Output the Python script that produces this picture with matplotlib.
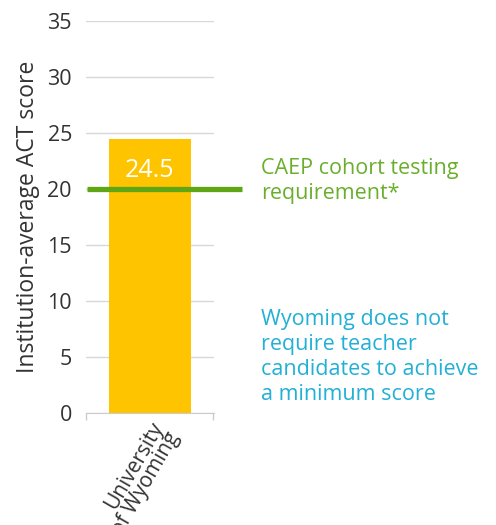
import matplotlib.pyplot as plt

# data
institutions = ["University\nof Wyoming"]
act_scores = [24.5]
caep_requirement = 20
yticks = [0, 5, 10, 15, 20, 25, 30, 35]

plt.rcParams['font.family'] = ['Open Sans', 'DejaVu Sans']

fig = plt.figure(figsize=(4.96, 5.25), dpi=100)
ax = fig.add_axes([0.173, 0.213, 0.258, 0.747])

bars = ax.bar(range(len(institutions)), act_scores, width=0.64,
              color='#FFC400', zorder=2)
ax.set_xlim(-0.5, 0.5)
ax.set_ylim(0, 35)
ax.set_yticks(yticks)
ax.tick_params(axis='y', length=0, labelsize=15.5, colors='#333333', pad=10)
ax.grid(axis='y', color='#d8d8d8', linewidth=1, zorder=0)

ax.set_xticks(range(len(institutions)))
ax.set_xticklabels(institutions, rotation=60, ha='right', va='top',
                   rotation_mode='anchor', fontsize=15, color='#333333',
                   linespacing=0.85)
ax.tick_params(axis='x', length=0, pad=4)
# little end ticks on the x axis
ax.set_xticks([-0.495, 0.495], minor=True)
ax.tick_params(axis='x', which='minor', length=5, color='#cccccc', width=1)

for s in ['top', 'right', 'left']:
    ax.spines[s].set_visible(False)
ax.spines['bottom'].set_color('#cccccc')

ax.set_ylabel("Institution-average ACT score", fontsize=16.5, color='#333333',
              labelpad=5)

# value labels
for b, v in zip(bars, act_scores):
    ax.text(b.get_x() + b.get_width() / 2, v - 1.7, f"{v}", ha='center',
            va='top', color='white', fontsize=18, zorder=3)

# CAEP requirement line, extends past the axes
ax.plot([-0.49, 0.72], [caep_requirement, caep_requirement], color='#5ea613',
        linewidth=3.8, clip_on=False, zorder=3, solid_capstyle='butt')

fig.text(0.527, 0.655, "CAEP cohort testing\nrequirement*", color='#6aaf2c',
         fontsize=15.5, ha='left', va='center', linespacing=1.25)
fig.text(0.527, 0.32, "Wyoming does not\nrequire teacher\ncandidates to achieve\na minimum score",
         color='#22b0d6', fontsize=15.5, ha='left', va='center',
         linespacing=1.25)

fig.savefig("out.png", dpi=100)
